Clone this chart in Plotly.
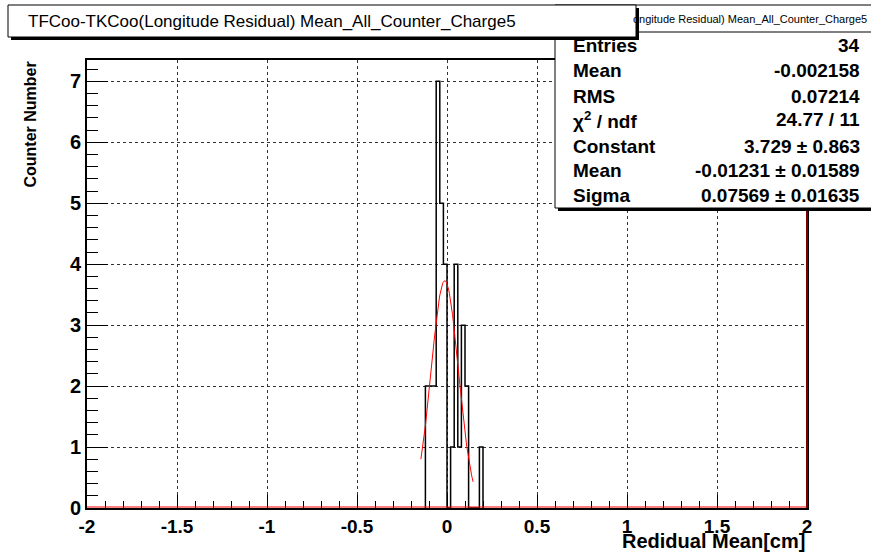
import numpy as np
import plotly.graph_objects as go

# ---------------- data ----------------
bin_low = -0.12
bin_width = 0.02
counts = [2, 2, 2, 7, 5, 4, 0, 1, 4, 1, 3, 2, 0, 0, 0, 1]

fit_constant = 3.729
fit_mean = -0.01231
fit_sigma = 0.07569
fit_range = [-0.145, 0.145]

x_tick_vals = [-2, -1.5, -1, -0.5, 0, 0.5, 1, 1.5, 2]
x_tick_text = ["-2", "-1.5", "-1", "-0.5", "0", "0.5", "1", "1.5", "2"]
y_tick_vals = [0, 1, 2, 3, 4, 5, 6, 7]
y_tick_text = ["0", "1", "2", "3", "4", "5", "6", "7"]

title_text = "TFCoo-TKCoo(Longitude Residual) Mean_All_Counter_Charge5"
stats_header = "ongitude Residual) Mean_All_Counter_Charge5"
stats_labels = ["Entries", "Mean", "RMS", "χ<sup>2</sup> / ndf", "Constant", "Mean", "Sigma"]
stats_values = ["34", "-0.002158", "0.07214", "24.77 / 11",
                "3.729 ± 0.863", "-0.01231 ± 0.01589", "0.07569 ± 0.01635"]

x_title = "Redidual Mean[cm]"
y_title = "Counter Number"

# ---------------- layout geometry (pixels) ----------------
W, H = 871, 553
L, R, T, B = 87, 807, 60, 508


def px(x):
    return (x - L) / (R - L)


def py(y):
    return (B - y) / (B - T)


FONT = "Liberation Sans, Arial, Helvetica, sans-serif"

# histogram outline as a step line
edges = [bin_low + bin_width * i for i in range(len(counts) + 1)]
hx = [edges[0]] + edges[:-1] + [edges[-1], edges[-1]]
hy = [0] + counts + [counts[-1], 0]

fx = np.linspace(fit_range[0], fit_range[1], 100)
fy = fit_constant * np.exp(-0.5 * ((fx - fit_mean) / fit_sigma) ** 2)

fig = go.Figure()
fig.add_trace(go.Scatter(x=hx, y=hy, mode="lines", line=dict(shape="hv", color="black", width=1.5),
                         hoverinfo="skip", showlegend=False))
fig.add_trace(go.Scatter(x=fx, y=fy, mode="lines", line=dict(color="red", width=1),
                         hoverinfo="skip", showlegend=False))

axis_common = dict(
    ticks="inside", tickcolor="black", tickwidth=1,
    showline=True, linecolor="black", linewidth=2, mirror=True,
    showgrid=True, gridcolor="#333333", griddash="dot", gridwidth=1,
    zeroline=False,
)

fig.update_xaxes(range=[-2, 2], tickmode="array", tickvals=x_tick_vals, ticktext=x_tick_text,
                 ticklen=13, ticklabelstandoff=0,
                 tickfont=dict(family=FONT, size=19, color="black", weight="bold"),
                 minor=dict(ticks="inside", dtick=0.1, tick0=-2, ticklen=7, tickcolor="black",
                            showgrid=False),
                 **axis_common)
fig.update_yaxes(range=[0, 7.35], tickmode="array", tickvals=y_tick_vals, ticktext=y_tick_text,
                 ticklen=21, ticklabelstandoff=0,
                 tickfont=dict(family=FONT, size=20, color="black", weight="bold"),
                 minor=dict(ticks="inside", dtick=0.2, tick0=0, ticklen=11, tickcolor="black",
                            showgrid=False),
                 **axis_common)

shapes = []
# red line along the baseline and dark red right edge
shapes.append(dict(type="line", xref="paper", yref="paper", x0=0, x1=1, y0=py(507), y1=py(507),
                   line=dict(color="red", width=1), layer="above"))
shapes.append(dict(type="line", xref="paper", yref="paper", x0=1, x1=1, y0=py(209), y1=0,
                   line=dict(color="#7a0000", width=2), layer="above"))
# stats box
shapes.append(dict(type="rect", xref="paper", yref="paper", x0=px(558), x1=px(875), y0=py(211), y1=py(8),
                   fillcolor="black", line=dict(width=0), layer="above"))
shapes.append(dict(type="rect", xref="paper", yref="paper", x0=px(555), x1=px(872), y0=py(208), y1=py(5),
                   fillcolor="white", line=dict(color="black", width=1), layer="above"))
shapes.append(dict(type="line", xref="paper", yref="paper", x0=px(555), x1=px(872), y0=py(32), y1=py(32),
                   line=dict(color="black", width=1), layer="above"))
# title box
shapes.append(dict(type="rect", xref="paper", yref="paper", x0=px(11), x1=px(639), y0=py(40), y1=py(8),
                   fillcolor="black", line=dict(width=0), layer="above"))
shapes.append(dict(type="rect", xref="paper", yref="paper", x0=px(8), x1=px(636), y0=py(37), y1=py(5),
                   fillcolor="white", line=dict(color="black", width=1), layer="above"))

annotations = []
annotations.append(dict(text=title_text, xref="paper", yref="paper", x=px(26), y=py(21),
                        xanchor="left", yanchor="middle", showarrow=False,
                        font=dict(family=FONT, size=17, color="black")))
annotations.append(dict(text=stats_header, xref="paper", yref="paper", x=px(869), y=py(19),
                        xanchor="right", yanchor="middle", showarrow=False,
                        font=dict(family=FONT, size=11, color="black")))
row_y = [45, 70, 96, 120, 146, 171, 195]
for lab, val, yy in zip(stats_labels, stats_values, row_y):
    annotations.append(dict(text=lab, xref="paper", yref="paper", x=px(571), y=py(yy),
                            xanchor="left", yanchor="middle", showarrow=False,
                            font=dict(family=FONT, size=19, color="black", weight="bold")))
    annotations.append(dict(text=val, xref="paper", yref="paper", x=px(862), y=py(yy),
                            xanchor="right", yanchor="middle", showarrow=False,
                            font=dict(family=FONT, size=19, color="black", weight="bold")))
annotations.append(dict(text=x_title, xref="paper", yref="paper", x=1, y=py(541),
                        xanchor="right", yanchor="middle", showarrow=False,
                        font=dict(family=FONT, size=20, color="black", weight="bold")))
annotations.append(dict(text=y_title, xref="paper", yref="paper", x=px(30), y=py(124.5),
                        xanchor="center", yanchor="middle", showarrow=False, textangle=-90,
                        font=dict(family=FONT, size=16, color="black", weight="bold")))

fig.update_layout(
    width=W, height=H,
    margin=dict(l=L, r=W - R, t=T, b=H - B),
    paper_bgcolor="white", plot_bgcolor="white",
    shapes=shapes, annotations=annotations,
    showlegend=False,
)

fig.write_html("out.html", config={"displayModeBar": False},
               post_script="document.body.style.margin='0px';")
